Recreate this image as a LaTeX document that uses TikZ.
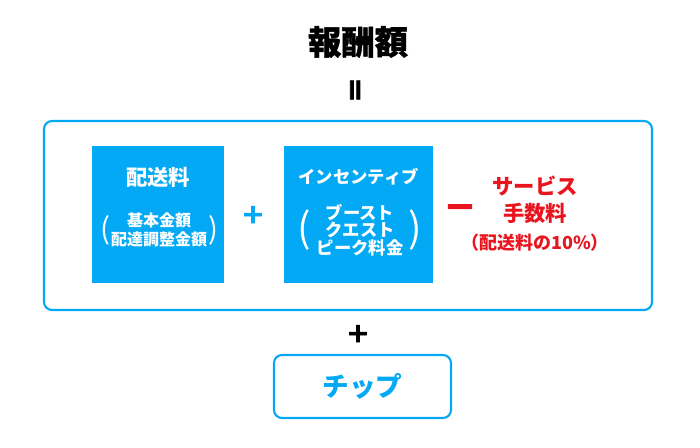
\documentclass[tikz,border=0pt]{standalone}
\usepackage{fontspec}
\usetikzlibrary{positioning}
\setmainfont{Noto Sans CJK JP}
\newfontfamily\heavy{Noto Sans CJK JP}[FakeBold=3]
\newfontfamily\semiheavy{Noto Sans CJK JP}[FakeBold=1.2]
\definecolor{skyblue}{HTML}{03A9F4}
\definecolor{feered}{HTML}{E8141E}
\newcommand{\fs}[1]{\fontsize{#1}{#1}\selectfont}

\begin{document}
\begin{tikzpicture}[
    x=0.75pt, y=-0.75pt,
    frame/.style={draw=skyblue,line width=1.6pt,rounded corners=6pt},
    part/.style={fill=skyblue,inner sep=0pt,minimum height=102.75pt},
    lbl/.style={text=white,font=\bfseries\fs{#1},inner sep=0pt,align=center},
    paren/.style={text=white,font=\fs{#1},inner sep=0pt},
    op/.style={font=\heavy\bfseries\fs{#1},inner sep=0pt},
    fee/.style={text=feered,font=\bfseries\fs{#1},inner sep=0pt}]
  \useasboundingbox (0,0) rectangle (700,447);
  \node[font=\semiheavy\bfseries\fs{25},inner sep=0pt] (title) at (358,42) {報酬額};
  \node[op=20,rotate=90] (eq) at (358,90) {＝};
  \node[frame,minimum width=456pt,minimum height=141.75pt] (outer) at (348,215.5) {};
  % delivery fee
  \node[part,minimum width=99pt] (deliv) at (158,214.5) {};
  \node[lbl=16] (delivname) at (158,177) {配送料};
  \node[lbl=12] (delivsub) at (159,230) {基本金額\\[2pt]配達調整金額};
  \node[paren=22] (dl) at (105,230) {(};
  \node[paren=22] (dr) at (213,230) {)};
  \node[op=18,text=skyblue] (plusa) at (253,215) {＋};
  % incentive
  \node[part,minimum width=111.75pt] (incent) at (358.5,214.5) {};
  \node[lbl=13] (incname) at (358.5,177) {インセンティブ};
  \node[lbl=13] (incsub) at (360,230) {ブースト\\[0pt]クエスト\\[0pt]ピーク料金};
  \node[paren=30] (il) at (304,230) {(};
  \node[paren=30] (ir) at (415,230) {)};
  % service fee
  \node[op=25,text=feered] (minus) at (460,212) {－};
  \node[fee=16] (feename) at (535,186) {サービス};
  \node[fee=16,below=5pt of feename] (feesub) {手数料};
  \node[fee=13.5,below=7pt of feesub] (feerate) {（配送料の10\%）};
  \node[op=18] (plusb) at (358,334) {＋};
  \node[frame,minimum width=132.75pt,minimum height=47.25pt,text=skyblue,font=\bfseries\fs{20}] (tip) at (362.5,386.5) {チップ};
\end{tikzpicture}
\end{document}
